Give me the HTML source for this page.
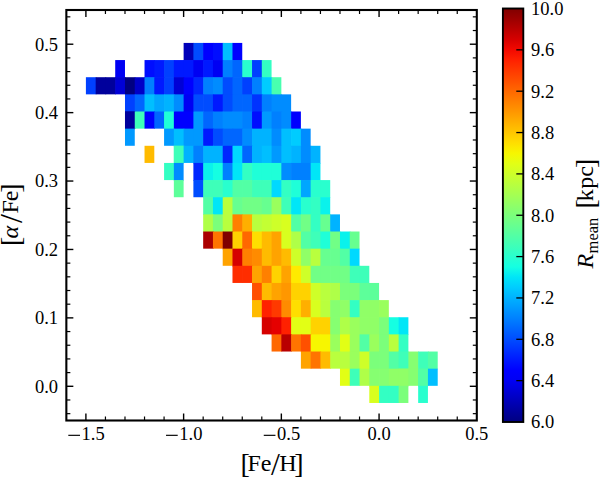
<!DOCTYPE html><html><head><meta charset="utf-8"><style>html,body{margin:0;padding:0;background:#fff;width:600px;height:477px;overflow:hidden}svg{display:block}text{font-family:"Liberation Serif",serif;fill:#000}</style></head><body>
<svg width="600" height="477" viewBox="0 0 600 477">
<g>
<rect x="183.62" y="42.92" width="10.47" height="17.84" fill="#0000b9"/>
<rect x="193.39" y="42.92" width="10.47" height="17.84" fill="#004cff"/>
<rect x="203.17" y="42.92" width="10.47" height="17.84" fill="#0000ff"/>
<rect x="212.94" y="42.92" width="10.47" height="17.84" fill="#000dff"/>
<rect x="222.71" y="42.92" width="10.47" height="17.84" fill="#00bfff"/>
<rect x="232.48" y="42.92" width="9.77" height="17.84" fill="#0000ff"/>
<rect x="115.21" y="60.06" width="9.77" height="17.85" fill="#0000f3"/>
<rect x="144.53" y="60.06" width="10.47" height="17.85" fill="#000dff"/>
<rect x="154.30" y="60.06" width="10.47" height="17.85" fill="#0019ff"/>
<rect x="164.08" y="60.06" width="10.47" height="17.85" fill="#0040ff"/>
<rect x="173.85" y="60.06" width="10.47" height="17.85" fill="#0019ff"/>
<rect x="183.62" y="60.06" width="10.47" height="17.85" fill="#0019ff"/>
<rect x="193.39" y="60.06" width="10.47" height="17.85" fill="#0000f3"/>
<rect x="203.17" y="60.06" width="10.47" height="17.85" fill="#0019ff"/>
<rect x="212.94" y="60.06" width="10.47" height="17.85" fill="#0000f3"/>
<rect x="222.71" y="60.06" width="10.47" height="17.85" fill="#0080ff"/>
<rect x="232.48" y="60.06" width="10.47" height="17.85" fill="#0066ff"/>
<rect x="242.26" y="60.06" width="10.47" height="17.85" fill="#29ffce"/>
<rect x="252.03" y="60.06" width="10.47" height="17.85" fill="#0040ff"/>
<rect x="261.80" y="60.06" width="9.77" height="17.85" fill="#33ffc3"/>
<rect x="85.90" y="77.21" width="10.47" height="17.14" fill="#0040ff"/>
<rect x="95.67" y="77.21" width="10.47" height="17.14" fill="#00009c"/>
<rect x="105.44" y="77.21" width="10.47" height="17.14" fill="#00009c"/>
<rect x="115.21" y="77.21" width="10.47" height="17.14" fill="#0000d6"/>
<rect x="124.99" y="77.21" width="10.47" height="17.84" fill="#000080"/>
<rect x="134.76" y="77.21" width="10.47" height="17.84" fill="#0000c8"/>
<rect x="144.53" y="77.21" width="10.47" height="17.84" fill="#0080ff"/>
<rect x="154.30" y="77.21" width="10.47" height="17.84" fill="#0019ff"/>
<rect x="164.08" y="77.21" width="10.47" height="17.84" fill="#0040ff"/>
<rect x="173.85" y="77.21" width="10.47" height="17.84" fill="#0000d6"/>
<rect x="183.62" y="77.21" width="10.47" height="17.84" fill="#0000ff"/>
<rect x="193.39" y="77.21" width="10.47" height="17.84" fill="#0026ff"/>
<rect x="203.17" y="77.21" width="10.47" height="17.84" fill="#0080ff"/>
<rect x="212.94" y="77.21" width="10.47" height="17.84" fill="#008cff"/>
<rect x="222.71" y="77.21" width="10.47" height="17.84" fill="#004cff"/>
<rect x="232.48" y="77.21" width="10.47" height="17.84" fill="#0066ff"/>
<rect x="242.26" y="77.21" width="10.47" height="17.84" fill="#0040ff"/>
<rect x="252.03" y="77.21" width="10.47" height="17.84" fill="#0080ff"/>
<rect x="261.80" y="77.21" width="10.47" height="17.84" fill="#00ccff"/>
<rect x="271.58" y="77.21" width="9.77" height="17.84" fill="#48ffaf"/>
<rect x="124.99" y="94.36" width="10.47" height="17.84" fill="#0040ff"/>
<rect x="134.76" y="94.36" width="10.47" height="17.84" fill="#0066ff"/>
<rect x="144.53" y="94.36" width="10.47" height="17.84" fill="#00bfff"/>
<rect x="154.30" y="94.36" width="10.47" height="17.84" fill="#00a6ff"/>
<rect x="164.08" y="94.36" width="10.47" height="17.84" fill="#00b3ff"/>
<rect x="173.85" y="94.36" width="10.47" height="17.84" fill="#008cff"/>
<rect x="183.62" y="94.36" width="10.47" height="17.84" fill="#0000f3"/>
<rect x="193.39" y="94.36" width="10.47" height="17.84" fill="#004cff"/>
<rect x="203.17" y="94.36" width="10.47" height="17.84" fill="#004cff"/>
<rect x="212.94" y="94.36" width="10.47" height="17.84" fill="#0019ff"/>
<rect x="222.71" y="94.36" width="10.47" height="17.84" fill="#004cff"/>
<rect x="232.48" y="94.36" width="10.47" height="17.84" fill="#0066ff"/>
<rect x="242.26" y="94.36" width="10.47" height="17.84" fill="#0066ff"/>
<rect x="252.03" y="94.36" width="10.47" height="17.84" fill="#0033ff"/>
<rect x="261.80" y="94.36" width="10.47" height="17.84" fill="#0080ff"/>
<rect x="271.58" y="94.36" width="10.47" height="17.84" fill="#008cff"/>
<rect x="281.35" y="94.36" width="9.77" height="17.84" fill="#008cff"/>
<rect x="124.99" y="111.50" width="10.47" height="17.14" fill="#00009c"/>
<rect x="124.99" y="111.50" width="9.77" height="17.84" fill="#00009c"/>
<rect x="134.76" y="111.50" width="10.47" height="17.14" fill="#3effb9"/>
<rect x="144.53" y="111.50" width="10.47" height="17.14" fill="#0000ff"/>
<rect x="154.30" y="111.50" width="10.47" height="17.14" fill="#0066ff"/>
<rect x="164.08" y="111.50" width="10.47" height="17.84" fill="#1fffd8"/>
<rect x="173.85" y="111.50" width="10.47" height="17.84" fill="#0000ff"/>
<rect x="183.62" y="111.50" width="10.47" height="17.84" fill="#0000ff"/>
<rect x="193.39" y="111.50" width="10.47" height="17.84" fill="#0099ff"/>
<rect x="203.17" y="111.50" width="10.47" height="17.84" fill="#0066ff"/>
<rect x="212.94" y="111.50" width="10.47" height="17.84" fill="#0080ff"/>
<rect x="222.71" y="111.50" width="10.47" height="17.84" fill="#008cff"/>
<rect x="232.48" y="111.50" width="10.47" height="17.84" fill="#008cff"/>
<rect x="242.26" y="111.50" width="10.47" height="17.84" fill="#0080ff"/>
<rect x="252.03" y="111.50" width="10.47" height="17.84" fill="#000dff"/>
<rect x="261.80" y="111.50" width="10.47" height="17.84" fill="#0099ff"/>
<rect x="271.58" y="111.50" width="10.47" height="17.84" fill="#0080ff"/>
<rect x="281.35" y="111.50" width="10.47" height="17.84" fill="#008cff"/>
<rect x="291.12" y="111.50" width="9.77" height="17.84" fill="#0000ff"/>
<rect x="124.99" y="128.64" width="9.77" height="17.15" fill="#0099ff"/>
<rect x="164.08" y="128.64" width="10.47" height="17.15" fill="#0099ff"/>
<rect x="173.85" y="128.64" width="10.47" height="17.85" fill="#00bfff"/>
<rect x="183.62" y="128.64" width="10.47" height="17.85" fill="#0099ff"/>
<rect x="193.39" y="128.64" width="10.47" height="17.85" fill="#0099ff"/>
<rect x="203.17" y="128.64" width="10.47" height="17.85" fill="#0019ff"/>
<rect x="212.94" y="128.64" width="10.47" height="17.85" fill="#004cff"/>
<rect x="222.71" y="128.64" width="10.47" height="17.85" fill="#0066ff"/>
<rect x="232.48" y="128.64" width="10.47" height="17.85" fill="#0066ff"/>
<rect x="242.26" y="128.64" width="10.47" height="17.85" fill="#008cff"/>
<rect x="252.03" y="128.64" width="10.47" height="17.85" fill="#00b3ff"/>
<rect x="261.80" y="128.64" width="10.47" height="17.85" fill="#00b3ff"/>
<rect x="271.58" y="128.64" width="10.47" height="17.85" fill="#008cff"/>
<rect x="281.35" y="128.64" width="10.47" height="17.85" fill="#00bfff"/>
<rect x="291.12" y="128.64" width="10.47" height="17.85" fill="#00ccff"/>
<rect x="300.89" y="128.64" width="9.77" height="17.85" fill="#008cff"/>
<rect x="144.53" y="145.79" width="9.77" height="17.14" fill="#ffbb00"/>
<rect x="173.85" y="145.79" width="10.47" height="17.14" fill="#3effb9"/>
<rect x="173.85" y="145.79" width="9.77" height="17.84" fill="#3effb9"/>
<rect x="183.62" y="145.79" width="10.47" height="17.14" fill="#00b3ff"/>
<rect x="193.39" y="145.79" width="10.47" height="17.84" fill="#0080ff"/>
<rect x="203.17" y="145.79" width="10.47" height="17.84" fill="#00b3ff"/>
<rect x="212.94" y="145.79" width="10.47" height="17.84" fill="#00b3ff"/>
<rect x="222.71" y="145.79" width="10.47" height="17.84" fill="#0026ff"/>
<rect x="232.48" y="145.79" width="10.47" height="17.84" fill="#00d9ff"/>
<rect x="242.26" y="145.79" width="10.47" height="17.84" fill="#0066ff"/>
<rect x="252.03" y="145.79" width="10.47" height="17.84" fill="#00b3ff"/>
<rect x="261.80" y="145.79" width="10.47" height="17.84" fill="#00bfff"/>
<rect x="271.58" y="145.79" width="10.47" height="17.84" fill="#0099ff"/>
<rect x="281.35" y="145.79" width="10.47" height="17.84" fill="#00bfff"/>
<rect x="291.12" y="145.79" width="10.47" height="17.84" fill="#00b3ff"/>
<rect x="300.89" y="145.79" width="10.47" height="17.84" fill="#008cff"/>
<rect x="310.67" y="145.79" width="9.77" height="17.84" fill="#00b3ff"/>
<rect x="164.08" y="162.94" width="10.47" height="17.14" fill="#33ffc3"/>
<rect x="173.85" y="162.94" width="9.77" height="17.84" fill="#008cff"/>
<rect x="193.39" y="162.94" width="10.47" height="17.84" fill="#0026ff"/>
<rect x="203.17" y="162.94" width="10.47" height="17.84" fill="#0af2ec"/>
<rect x="212.94" y="162.94" width="10.47" height="17.84" fill="#15ffe2"/>
<rect x="222.71" y="162.94" width="10.47" height="17.84" fill="#0080ff"/>
<rect x="232.48" y="162.94" width="10.47" height="17.84" fill="#00e6f7"/>
<rect x="242.26" y="162.94" width="10.47" height="17.84" fill="#33ffc3"/>
<rect x="252.03" y="162.94" width="10.47" height="17.84" fill="#1fffd8"/>
<rect x="261.80" y="162.94" width="10.47" height="17.84" fill="#1fffd8"/>
<rect x="271.58" y="162.94" width="10.47" height="17.84" fill="#1fffd8"/>
<rect x="281.35" y="162.94" width="10.47" height="17.84" fill="#008cff"/>
<rect x="291.12" y="162.94" width="10.47" height="17.84" fill="#0080ff"/>
<rect x="300.89" y="162.94" width="10.47" height="17.84" fill="#0080ff"/>
<rect x="310.67" y="162.94" width="9.77" height="17.84" fill="#00e6f7"/>
<rect x="173.85" y="180.08" width="9.77" height="17.15" fill="#5dff9a"/>
<rect x="193.39" y="180.08" width="10.47" height="17.15" fill="#004cff"/>
<rect x="203.17" y="180.08" width="10.47" height="17.85" fill="#3effb9"/>
<rect x="212.94" y="180.08" width="10.47" height="17.85" fill="#3effb9"/>
<rect x="222.71" y="180.08" width="10.47" height="17.85" fill="#29ffce"/>
<rect x="232.48" y="180.08" width="10.47" height="17.85" fill="#52ffa5"/>
<rect x="242.26" y="180.08" width="10.47" height="17.85" fill="#52ffa5"/>
<rect x="252.03" y="180.08" width="10.47" height="17.85" fill="#3effb9"/>
<rect x="261.80" y="180.08" width="10.47" height="17.85" fill="#3effb9"/>
<rect x="271.58" y="180.08" width="10.47" height="17.85" fill="#00d9ff"/>
<rect x="281.35" y="180.08" width="10.47" height="17.85" fill="#33ffc3"/>
<rect x="291.12" y="180.08" width="10.47" height="17.85" fill="#1fffd8"/>
<rect x="300.89" y="180.08" width="10.47" height="17.85" fill="#00a6ff"/>
<rect x="310.67" y="180.08" width="10.47" height="17.85" fill="#29ffce"/>
<rect x="320.44" y="180.08" width="9.77" height="17.85" fill="#29ffce"/>
<rect x="203.17" y="197.23" width="10.47" height="17.84" fill="#52ffa5"/>
<rect x="212.94" y="197.23" width="10.47" height="17.84" fill="#00e6f7"/>
<rect x="222.71" y="197.23" width="10.47" height="17.84" fill="#b9ff3e"/>
<rect x="232.48" y="197.23" width="10.47" height="17.84" fill="#67ff90"/>
<rect x="242.26" y="197.23" width="10.47" height="17.84" fill="#71ff86"/>
<rect x="252.03" y="197.23" width="10.47" height="17.84" fill="#71ff86"/>
<rect x="261.80" y="197.23" width="10.47" height="17.84" fill="#67ff90"/>
<rect x="271.58" y="197.23" width="10.47" height="17.84" fill="#9aff5d"/>
<rect x="281.35" y="197.23" width="10.47" height="17.84" fill="#3effb9"/>
<rect x="291.12" y="197.23" width="10.47" height="17.84" fill="#00e6f7"/>
<rect x="300.89" y="197.23" width="10.47" height="17.84" fill="#29ffce"/>
<rect x="310.67" y="197.23" width="10.47" height="17.84" fill="#33ffc3"/>
<rect x="320.44" y="197.23" width="9.77" height="17.84" fill="#0af2ec"/>
<rect x="203.17" y="214.37" width="10.47" height="17.84" fill="#afff48"/>
<rect x="212.94" y="214.37" width="10.47" height="17.84" fill="#7bff7b"/>
<rect x="222.71" y="214.37" width="10.47" height="17.84" fill="#b9ff3e"/>
<rect x="232.48" y="214.37" width="10.47" height="17.84" fill="#ff8000"/>
<rect x="242.26" y="214.37" width="10.47" height="17.84" fill="#ffaf00"/>
<rect x="252.03" y="214.37" width="10.47" height="17.84" fill="#b9ff3e"/>
<rect x="261.80" y="214.37" width="10.47" height="17.84" fill="#c3ff33"/>
<rect x="271.58" y="214.37" width="10.47" height="17.84" fill="#ceff29"/>
<rect x="281.35" y="214.37" width="10.47" height="17.84" fill="#d8ff1f"/>
<rect x="291.12" y="214.37" width="10.47" height="17.84" fill="#52ffa5"/>
<rect x="300.89" y="214.37" width="10.47" height="17.84" fill="#71ff86"/>
<rect x="310.67" y="214.37" width="10.47" height="17.84" fill="#33ffc3"/>
<rect x="320.44" y="214.37" width="10.47" height="17.84" fill="#67ff90"/>
<rect x="330.21" y="214.37" width="9.77" height="17.84" fill="#00b3ff"/>
<rect x="203.17" y="231.51" width="10.47" height="17.15" fill="#ab0000"/>
<rect x="212.94" y="231.51" width="10.47" height="17.15" fill="#ff7400"/>
<rect x="222.71" y="231.51" width="10.47" height="17.85" fill="#800000"/>
<rect x="232.48" y="231.51" width="10.47" height="17.85" fill="#ffd200"/>
<rect x="242.26" y="231.51" width="10.47" height="17.85" fill="#ff6800"/>
<rect x="252.03" y="231.51" width="10.47" height="17.85" fill="#ffde00"/>
<rect x="261.80" y="231.51" width="10.47" height="17.85" fill="#ffbb00"/>
<rect x="271.58" y="231.51" width="10.47" height="17.85" fill="#ffa300"/>
<rect x="281.35" y="231.51" width="10.47" height="17.85" fill="#d8ff1f"/>
<rect x="291.12" y="231.51" width="10.47" height="17.85" fill="#afff48"/>
<rect x="300.89" y="231.51" width="10.47" height="17.85" fill="#52ffa5"/>
<rect x="310.67" y="231.51" width="10.47" height="17.85" fill="#3effb9"/>
<rect x="320.44" y="231.51" width="10.47" height="17.85" fill="#1fffd8"/>
<rect x="330.21" y="231.51" width="10.47" height="17.85" fill="#71ff86"/>
<rect x="339.98" y="231.51" width="10.47" height="17.85" fill="#0af2ec"/>
<rect x="349.76" y="231.51" width="9.77" height="17.85" fill="#67ff90"/>
<rect x="222.71" y="248.66" width="10.47" height="17.14" fill="#ffa300"/>
<rect x="232.48" y="248.66" width="10.47" height="17.84" fill="#d60000"/>
<rect x="242.26" y="248.66" width="10.47" height="17.84" fill="#ff8000"/>
<rect x="252.03" y="248.66" width="10.47" height="17.84" fill="#ff8b00"/>
<rect x="261.80" y="248.66" width="10.47" height="17.84" fill="#ffbb00"/>
<rect x="271.58" y="248.66" width="10.47" height="17.84" fill="#ffa300"/>
<rect x="281.35" y="248.66" width="10.47" height="17.84" fill="#ffbb00"/>
<rect x="291.12" y="248.66" width="10.47" height="17.84" fill="#ceff29"/>
<rect x="300.89" y="248.66" width="10.47" height="17.84" fill="#90ff67"/>
<rect x="310.67" y="248.66" width="10.47" height="17.84" fill="#b9ff3e"/>
<rect x="320.44" y="248.66" width="10.47" height="17.84" fill="#67ff90"/>
<rect x="330.21" y="248.66" width="10.47" height="17.84" fill="#67ff90"/>
<rect x="339.98" y="248.66" width="10.47" height="17.84" fill="#52ffa5"/>
<rect x="349.76" y="248.66" width="9.77" height="17.84" fill="#00d9ff"/>
<rect x="232.48" y="265.81" width="10.47" height="17.14" fill="#ff2d00"/>
<rect x="242.26" y="265.81" width="10.47" height="17.14" fill="#ff2d00"/>
<rect x="252.03" y="265.81" width="10.47" height="17.84" fill="#ffa300"/>
<rect x="261.80" y="265.81" width="10.47" height="17.84" fill="#ff8000"/>
<rect x="271.58" y="265.81" width="10.47" height="17.84" fill="#ffd200"/>
<rect x="281.35" y="265.81" width="10.47" height="17.84" fill="#ffa300"/>
<rect x="291.12" y="265.81" width="10.47" height="17.84" fill="#ffea00"/>
<rect x="300.89" y="265.81" width="10.47" height="17.84" fill="#ceff29"/>
<rect x="310.67" y="265.81" width="10.47" height="17.84" fill="#71ff86"/>
<rect x="320.44" y="265.81" width="10.47" height="17.84" fill="#71ff86"/>
<rect x="330.21" y="265.81" width="10.47" height="17.84" fill="#71ff86"/>
<rect x="339.98" y="265.81" width="10.47" height="17.84" fill="#71ff86"/>
<rect x="349.76" y="265.81" width="10.47" height="17.84" fill="#3effb9"/>
<rect x="359.53" y="265.81" width="9.77" height="17.84" fill="#3effb9"/>
<rect x="252.03" y="282.95" width="10.47" height="17.85" fill="#ff5000"/>
<rect x="261.80" y="282.95" width="10.47" height="17.85" fill="#ffbb00"/>
<rect x="271.58" y="282.95" width="10.47" height="17.85" fill="#ffa300"/>
<rect x="281.35" y="282.95" width="10.47" height="17.85" fill="#ff9700"/>
<rect x="291.12" y="282.95" width="10.47" height="17.85" fill="#ffd200"/>
<rect x="300.89" y="282.95" width="10.47" height="17.85" fill="#ffd200"/>
<rect x="310.67" y="282.95" width="10.47" height="17.85" fill="#ceff29"/>
<rect x="320.44" y="282.95" width="10.47" height="17.85" fill="#b9ff3e"/>
<rect x="330.21" y="282.95" width="10.47" height="17.85" fill="#afff48"/>
<rect x="339.98" y="282.95" width="10.47" height="17.85" fill="#7bff7b"/>
<rect x="349.76" y="282.95" width="10.47" height="17.85" fill="#7bff7b"/>
<rect x="359.53" y="282.95" width="10.47" height="17.85" fill="#5dff9a"/>
<rect x="369.30" y="282.95" width="9.77" height="17.85" fill="#5dff9a"/>
<rect x="252.03" y="300.10" width="10.47" height="17.14" fill="#ffbb00"/>
<rect x="261.80" y="300.10" width="10.47" height="17.84" fill="#ff2100"/>
<rect x="271.58" y="300.10" width="10.47" height="17.84" fill="#ff3900"/>
<rect x="281.35" y="300.10" width="10.47" height="17.84" fill="#ff8b00"/>
<rect x="291.12" y="300.10" width="10.47" height="17.84" fill="#ffde00"/>
<rect x="300.89" y="300.10" width="10.47" height="17.84" fill="#ffaf00"/>
<rect x="310.67" y="300.10" width="10.47" height="17.84" fill="#d8ff1f"/>
<rect x="320.44" y="300.10" width="10.47" height="17.84" fill="#b9ff3e"/>
<rect x="330.21" y="300.10" width="10.47" height="17.84" fill="#86ff71"/>
<rect x="339.98" y="300.10" width="10.47" height="17.84" fill="#90ff67"/>
<rect x="349.76" y="300.10" width="10.47" height="17.84" fill="#33ffc3"/>
<rect x="359.53" y="300.10" width="10.47" height="17.84" fill="#90ff67"/>
<rect x="369.30" y="300.10" width="10.47" height="17.84" fill="#90ff67"/>
<rect x="379.07" y="300.10" width="9.77" height="17.84" fill="#9aff5d"/>
<rect x="261.80" y="317.24" width="10.47" height="17.14" fill="#d60000"/>
<rect x="271.58" y="317.24" width="10.47" height="17.84" fill="#e50000"/>
<rect x="281.35" y="317.24" width="10.47" height="17.84" fill="#ff2100"/>
<rect x="291.12" y="317.24" width="10.47" height="17.84" fill="#e2ff15"/>
<rect x="300.89" y="317.24" width="10.47" height="17.84" fill="#e2ff15"/>
<rect x="310.67" y="317.24" width="10.47" height="17.84" fill="#ffd200"/>
<rect x="320.44" y="317.24" width="10.47" height="17.84" fill="#ffd200"/>
<rect x="330.21" y="317.24" width="10.47" height="17.84" fill="#86ff71"/>
<rect x="339.98" y="317.24" width="10.47" height="17.84" fill="#afff48"/>
<rect x="349.76" y="317.24" width="10.47" height="17.84" fill="#9aff5d"/>
<rect x="359.53" y="317.24" width="10.47" height="17.84" fill="#90ff67"/>
<rect x="369.30" y="317.24" width="10.47" height="17.84" fill="#90ff67"/>
<rect x="379.07" y="317.24" width="10.47" height="17.84" fill="#7bff7b"/>
<rect x="388.85" y="317.24" width="10.47" height="17.84" fill="#15ffe2"/>
<rect x="398.62" y="317.24" width="9.77" height="17.84" fill="#00e6f7"/>
<rect x="271.58" y="334.38" width="10.47" height="17.15" fill="#ff6800"/>
<rect x="281.35" y="334.38" width="10.47" height="17.15" fill="#b90000"/>
<rect x="291.12" y="334.38" width="10.47" height="17.15" fill="#ff7400"/>
<rect x="300.89" y="334.38" width="10.47" height="17.85" fill="#ff5000"/>
<rect x="310.67" y="334.38" width="10.47" height="17.85" fill="#f7f600"/>
<rect x="320.44" y="334.38" width="10.47" height="17.85" fill="#f7f600"/>
<rect x="330.21" y="334.38" width="10.47" height="17.85" fill="#9aff5d"/>
<rect x="339.98" y="334.38" width="10.47" height="17.85" fill="#e2ff15"/>
<rect x="349.76" y="334.38" width="10.47" height="17.85" fill="#9aff5d"/>
<rect x="359.53" y="334.38" width="10.47" height="17.85" fill="#52ffa5"/>
<rect x="369.30" y="334.38" width="10.47" height="17.85" fill="#9aff5d"/>
<rect x="379.07" y="334.38" width="10.47" height="17.85" fill="#7bff7b"/>
<rect x="388.85" y="334.38" width="10.47" height="17.85" fill="#b9ff3e"/>
<rect x="398.62" y="334.38" width="9.77" height="17.85" fill="#33ffc3"/>
<rect x="300.89" y="351.53" width="10.47" height="17.14" fill="#ffa300"/>
<rect x="310.67" y="351.53" width="10.47" height="17.14" fill="#ff7400"/>
<rect x="320.44" y="351.53" width="10.47" height="17.14" fill="#ffbb00"/>
<rect x="330.21" y="351.53" width="10.47" height="17.14" fill="#b9ff3e"/>
<rect x="339.98" y="351.53" width="10.47" height="17.84" fill="#b9ff3e"/>
<rect x="349.76" y="351.53" width="10.47" height="17.84" fill="#9aff5d"/>
<rect x="359.53" y="351.53" width="10.47" height="17.84" fill="#ceff29"/>
<rect x="369.30" y="351.53" width="10.47" height="17.84" fill="#7bff7b"/>
<rect x="379.07" y="351.53" width="10.47" height="17.84" fill="#7bff7b"/>
<rect x="388.85" y="351.53" width="10.47" height="17.84" fill="#52ffa5"/>
<rect x="398.62" y="351.53" width="10.47" height="17.84" fill="#3effb9"/>
<rect x="408.39" y="351.53" width="10.47" height="17.84" fill="#86ff71"/>
<rect x="418.16" y="351.53" width="10.47" height="17.84" fill="#3effb9"/>
<rect x="427.94" y="351.53" width="9.77" height="17.84" fill="#52ffa5"/>
<rect x="339.98" y="368.68" width="10.47" height="17.14" fill="#e2ff15"/>
<rect x="349.76" y="368.68" width="10.47" height="17.14" fill="#3effb9"/>
<rect x="359.53" y="368.68" width="10.47" height="17.14" fill="#afff48"/>
<rect x="369.30" y="368.68" width="10.47" height="17.84" fill="#86ff71"/>
<rect x="379.07" y="368.68" width="10.47" height="17.84" fill="#86ff71"/>
<rect x="388.85" y="368.68" width="10.47" height="17.84" fill="#90ff67"/>
<rect x="398.62" y="368.68" width="10.47" height="17.14" fill="#90ff67"/>
<rect x="398.62" y="368.68" width="9.77" height="17.84" fill="#90ff67"/>
<rect x="408.39" y="368.68" width="10.47" height="17.14" fill="#86ff71"/>
<rect x="418.16" y="368.68" width="10.47" height="17.14" fill="#52ffa5"/>
<rect x="418.16" y="368.68" width="9.77" height="17.84" fill="#52ffa5"/>
<rect x="427.94" y="368.68" width="9.77" height="17.14" fill="#00bfff"/>
<rect x="369.30" y="385.82" width="10.47" height="17.15" fill="#d8ff1f"/>
<rect x="379.07" y="385.82" width="10.47" height="17.15" fill="#33ffc3"/>
<rect x="388.85" y="385.82" width="10.47" height="17.15" fill="#33ffc3"/>
<rect x="398.62" y="385.82" width="9.77" height="17.15" fill="#7bff7b"/>
<rect x="418.16" y="385.82" width="9.77" height="17.15" fill="#29ffce"/>
</g>
<g stroke="#000"><line x1="85.90" y1="420.50" x2="85.90" y2="413.50" stroke-width="1.4"/><line x1="85.90" y1="10.00" x2="85.90" y2="17.00" stroke-width="1.4"/><line x1="105.44" y1="420.50" x2="105.44" y2="416.50" stroke-width="1.2"/><line x1="105.44" y1="10.00" x2="105.44" y2="14.00" stroke-width="1.2"/><line x1="124.99" y1="420.50" x2="124.99" y2="416.50" stroke-width="1.2"/><line x1="124.99" y1="10.00" x2="124.99" y2="14.00" stroke-width="1.2"/><line x1="144.53" y1="420.50" x2="144.53" y2="416.50" stroke-width="1.2"/><line x1="144.53" y1="10.00" x2="144.53" y2="14.00" stroke-width="1.2"/><line x1="164.08" y1="420.50" x2="164.08" y2="416.50" stroke-width="1.2"/><line x1="164.08" y1="10.00" x2="164.08" y2="14.00" stroke-width="1.2"/><line x1="183.62" y1="420.50" x2="183.62" y2="413.50" stroke-width="1.4"/><line x1="183.62" y1="10.00" x2="183.62" y2="17.00" stroke-width="1.4"/><line x1="203.17" y1="420.50" x2="203.17" y2="416.50" stroke-width="1.2"/><line x1="203.17" y1="10.00" x2="203.17" y2="14.00" stroke-width="1.2"/><line x1="222.71" y1="420.50" x2="222.71" y2="416.50" stroke-width="1.2"/><line x1="222.71" y1="10.00" x2="222.71" y2="14.00" stroke-width="1.2"/><line x1="242.26" y1="420.50" x2="242.26" y2="416.50" stroke-width="1.2"/><line x1="242.26" y1="10.00" x2="242.26" y2="14.00" stroke-width="1.2"/><line x1="261.80" y1="420.50" x2="261.80" y2="416.50" stroke-width="1.2"/><line x1="261.80" y1="10.00" x2="261.80" y2="14.00" stroke-width="1.2"/><line x1="281.35" y1="420.50" x2="281.35" y2="413.50" stroke-width="1.4"/><line x1="281.35" y1="10.00" x2="281.35" y2="17.00" stroke-width="1.4"/><line x1="300.89" y1="420.50" x2="300.89" y2="416.50" stroke-width="1.2"/><line x1="300.89" y1="10.00" x2="300.89" y2="14.00" stroke-width="1.2"/><line x1="320.44" y1="420.50" x2="320.44" y2="416.50" stroke-width="1.2"/><line x1="320.44" y1="10.00" x2="320.44" y2="14.00" stroke-width="1.2"/><line x1="339.98" y1="420.50" x2="339.98" y2="416.50" stroke-width="1.2"/><line x1="339.98" y1="10.00" x2="339.98" y2="14.00" stroke-width="1.2"/><line x1="359.53" y1="420.50" x2="359.53" y2="416.50" stroke-width="1.2"/><line x1="359.53" y1="10.00" x2="359.53" y2="14.00" stroke-width="1.2"/><line x1="379.07" y1="420.50" x2="379.07" y2="413.50" stroke-width="1.4"/><line x1="379.07" y1="10.00" x2="379.07" y2="17.00" stroke-width="1.4"/><line x1="398.62" y1="420.50" x2="398.62" y2="416.50" stroke-width="1.2"/><line x1="398.62" y1="10.00" x2="398.62" y2="14.00" stroke-width="1.2"/><line x1="418.16" y1="420.50" x2="418.16" y2="416.50" stroke-width="1.2"/><line x1="418.16" y1="10.00" x2="418.16" y2="14.00" stroke-width="1.2"/><line x1="437.71" y1="420.50" x2="437.71" y2="416.50" stroke-width="1.2"/><line x1="437.71" y1="10.00" x2="437.71" y2="14.00" stroke-width="1.2"/><line x1="457.25" y1="420.50" x2="457.25" y2="416.50" stroke-width="1.2"/><line x1="457.25" y1="10.00" x2="457.25" y2="14.00" stroke-width="1.2"/><line x1="66.35" y1="413.66" x2="70.35" y2="413.66" stroke-width="1.2"/><line x1="476.80" y1="413.66" x2="472.80" y2="413.66" stroke-width="1.2"/><line x1="66.35" y1="399.98" x2="70.35" y2="399.98" stroke-width="1.2"/><line x1="476.80" y1="399.98" x2="472.80" y2="399.98" stroke-width="1.2"/><line x1="66.35" y1="386.29" x2="73.35" y2="386.29" stroke-width="1.4"/><line x1="476.80" y1="386.29" x2="469.80" y2="386.29" stroke-width="1.4"/><line x1="66.35" y1="372.61" x2="70.35" y2="372.61" stroke-width="1.2"/><line x1="476.80" y1="372.61" x2="472.80" y2="372.61" stroke-width="1.2"/><line x1="66.35" y1="358.93" x2="70.35" y2="358.93" stroke-width="1.2"/><line x1="476.80" y1="358.93" x2="472.80" y2="358.93" stroke-width="1.2"/><line x1="66.35" y1="345.24" x2="70.35" y2="345.24" stroke-width="1.2"/><line x1="476.80" y1="345.24" x2="472.80" y2="345.24" stroke-width="1.2"/><line x1="66.35" y1="331.56" x2="70.35" y2="331.56" stroke-width="1.2"/><line x1="476.80" y1="331.56" x2="472.80" y2="331.56" stroke-width="1.2"/><line x1="66.35" y1="317.88" x2="73.35" y2="317.88" stroke-width="1.4"/><line x1="476.80" y1="317.88" x2="469.80" y2="317.88" stroke-width="1.4"/><line x1="66.35" y1="304.19" x2="70.35" y2="304.19" stroke-width="1.2"/><line x1="476.80" y1="304.19" x2="472.80" y2="304.19" stroke-width="1.2"/><line x1="66.35" y1="290.51" x2="70.35" y2="290.51" stroke-width="1.2"/><line x1="476.80" y1="290.51" x2="472.80" y2="290.51" stroke-width="1.2"/><line x1="66.35" y1="276.82" x2="70.35" y2="276.82" stroke-width="1.2"/><line x1="476.80" y1="276.82" x2="472.80" y2="276.82" stroke-width="1.2"/><line x1="66.35" y1="263.14" x2="70.35" y2="263.14" stroke-width="1.2"/><line x1="476.80" y1="263.14" x2="472.80" y2="263.14" stroke-width="1.2"/><line x1="66.35" y1="249.46" x2="73.35" y2="249.46" stroke-width="1.4"/><line x1="476.80" y1="249.46" x2="469.80" y2="249.46" stroke-width="1.4"/><line x1="66.35" y1="235.78" x2="70.35" y2="235.78" stroke-width="1.2"/><line x1="476.80" y1="235.78" x2="472.80" y2="235.78" stroke-width="1.2"/><line x1="66.35" y1="222.09" x2="70.35" y2="222.09" stroke-width="1.2"/><line x1="476.80" y1="222.09" x2="472.80" y2="222.09" stroke-width="1.2"/><line x1="66.35" y1="208.41" x2="70.35" y2="208.41" stroke-width="1.2"/><line x1="476.80" y1="208.41" x2="472.80" y2="208.41" stroke-width="1.2"/><line x1="66.35" y1="194.73" x2="70.35" y2="194.73" stroke-width="1.2"/><line x1="476.80" y1="194.73" x2="472.80" y2="194.73" stroke-width="1.2"/><line x1="66.35" y1="181.04" x2="73.35" y2="181.04" stroke-width="1.4"/><line x1="476.80" y1="181.04" x2="469.80" y2="181.04" stroke-width="1.4"/><line x1="66.35" y1="167.36" x2="70.35" y2="167.36" stroke-width="1.2"/><line x1="476.80" y1="167.36" x2="472.80" y2="167.36" stroke-width="1.2"/><line x1="66.35" y1="153.68" x2="70.35" y2="153.68" stroke-width="1.2"/><line x1="476.80" y1="153.68" x2="472.80" y2="153.68" stroke-width="1.2"/><line x1="66.35" y1="139.99" x2="70.35" y2="139.99" stroke-width="1.2"/><line x1="476.80" y1="139.99" x2="472.80" y2="139.99" stroke-width="1.2"/><line x1="66.35" y1="126.31" x2="70.35" y2="126.31" stroke-width="1.2"/><line x1="476.80" y1="126.31" x2="472.80" y2="126.31" stroke-width="1.2"/><line x1="66.35" y1="112.63" x2="73.35" y2="112.63" stroke-width="1.4"/><line x1="476.80" y1="112.63" x2="469.80" y2="112.63" stroke-width="1.4"/><line x1="66.35" y1="98.94" x2="70.35" y2="98.94" stroke-width="1.2"/><line x1="476.80" y1="98.94" x2="472.80" y2="98.94" stroke-width="1.2"/><line x1="66.35" y1="85.26" x2="70.35" y2="85.26" stroke-width="1.2"/><line x1="476.80" y1="85.26" x2="472.80" y2="85.26" stroke-width="1.2"/><line x1="66.35" y1="71.58" x2="70.35" y2="71.58" stroke-width="1.2"/><line x1="476.80" y1="71.58" x2="472.80" y2="71.58" stroke-width="1.2"/><line x1="66.35" y1="57.89" x2="70.35" y2="57.89" stroke-width="1.2"/><line x1="476.80" y1="57.89" x2="472.80" y2="57.89" stroke-width="1.2"/><line x1="66.35" y1="44.21" x2="73.35" y2="44.21" stroke-width="1.4"/><line x1="476.80" y1="44.21" x2="469.80" y2="44.21" stroke-width="1.4"/><line x1="66.35" y1="30.53" x2="70.35" y2="30.53" stroke-width="1.2"/><line x1="476.80" y1="30.53" x2="472.80" y2="30.53" stroke-width="1.2"/><line x1="66.35" y1="16.84" x2="70.35" y2="16.84" stroke-width="1.2"/><line x1="476.80" y1="16.84" x2="472.80" y2="16.84" stroke-width="1.2"/></g>
<rect x="66.35" y="10.00" width="410.45" height="410.50" fill="none" stroke="#000" stroke-width="2.1"/>
<text x="93.15" y="440.30" font-size="18.5" text-anchor="middle">1.5</text>
<rect x="68.30" y="434.75" width="11.7" height="1.15" fill="#000"/>
<text x="190.87" y="440.30" font-size="18.5" text-anchor="middle">1.0</text>
<rect x="166.02" y="434.75" width="11.7" height="1.15" fill="#000"/>
<text x="288.60" y="440.30" font-size="18.5" text-anchor="middle">0.5</text>
<rect x="263.75" y="434.75" width="11.7" height="1.15" fill="#000"/>
<text x="379.07" y="440.30" font-size="18.5" text-anchor="middle">0.0</text>
<text x="476.80" y="440.30" font-size="18.5" text-anchor="middle">0.5</text>
<text x="58.00" y="392.59" font-size="18.5" text-anchor="end">0.0</text>
<text x="58.00" y="324.18" font-size="18.5" text-anchor="end">0.1</text>
<text x="58.00" y="255.76" font-size="18.5" text-anchor="end">0.2</text>
<text x="58.00" y="187.34" font-size="18.5" text-anchor="end">0.3</text>
<text x="58.00" y="118.93" font-size="18.5" text-anchor="end">0.4</text>
<text x="58.00" y="50.51" font-size="18.5" text-anchor="end">0.5</text>
<text x="272.07" y="471.20" font-size="24" text-anchor="middle"><tspan font-size="28" dy="1.6" dx="0.0">[</tspan><tspan dy="-1.6" dx="-2.5">Fe</tspan><tspan font-size="32" dy="3.8" dx="-0.5">/</tspan><tspan dy="-3.8" dx="-0.5">H</tspan><tspan font-size="28" dy="1.6" dx="-2.5">]</tspan></text>
<text transform="translate(20.00,188.10) rotate(-90)" font-size="28.0" text-anchor="middle">]</text>
<text transform="translate(18.40,195.85) rotate(-90)" font-size="24.0" text-anchor="middle">e</text>
<text transform="translate(18.40,206.85) rotate(-90)" font-size="24.0" text-anchor="middle">F</text>
<text transform="translate(22.20,218.60) rotate(-90)" font-size="32.0" text-anchor="middle">/</text>
<text transform="translate(18.40,232.20) rotate(-90)" font-size="24.0" text-anchor="middle" font-style="italic">α</text>
<text transform="translate(20.00,241.40) rotate(-90)" font-size="28.0" text-anchor="middle">[</text>
<defs><linearGradient id="jg" x1="0" y1="0" x2="0" y2="1"><stop offset="0.0000" stop-color="#800000"/><stop offset="0.0250" stop-color="#9c0000"/><stop offset="0.0500" stop-color="#b90000"/><stop offset="0.0750" stop-color="#d60000"/><stop offset="0.1000" stop-color="#f30900"/><stop offset="0.1250" stop-color="#ff2100"/><stop offset="0.1500" stop-color="#ff3900"/><stop offset="0.1750" stop-color="#ff5000"/><stop offset="0.2000" stop-color="#ff6800"/><stop offset="0.2250" stop-color="#ff8000"/><stop offset="0.2500" stop-color="#ff9700"/><stop offset="0.2750" stop-color="#ffaf00"/><stop offset="0.3000" stop-color="#ffc600"/><stop offset="0.3250" stop-color="#ffde00"/><stop offset="0.3500" stop-color="#f7f600"/><stop offset="0.3750" stop-color="#e2ff15"/><stop offset="0.4000" stop-color="#ceff29"/><stop offset="0.4250" stop-color="#b9ff3e"/><stop offset="0.4500" stop-color="#a5ff52"/><stop offset="0.4750" stop-color="#90ff67"/><stop offset="0.5000" stop-color="#7bff7b"/><stop offset="0.5250" stop-color="#67ff90"/><stop offset="0.5500" stop-color="#52ffa5"/><stop offset="0.5750" stop-color="#3effb9"/><stop offset="0.6000" stop-color="#29ffce"/><stop offset="0.6250" stop-color="#15ffe2"/><stop offset="0.6500" stop-color="#00e5f7"/><stop offset="0.6750" stop-color="#00ccff"/><stop offset="0.7000" stop-color="#00b2ff"/><stop offset="0.7250" stop-color="#0099ff"/><stop offset="0.7500" stop-color="#0080ff"/><stop offset="0.7750" stop-color="#0066ff"/><stop offset="0.8000" stop-color="#004dff"/><stop offset="0.8250" stop-color="#0033ff"/><stop offset="0.8500" stop-color="#0019ff"/><stop offset="0.8750" stop-color="#0000ff"/><stop offset="0.9000" stop-color="#0000f3"/><stop offset="0.9250" stop-color="#0000d6"/><stop offset="0.9500" stop-color="#0000b9"/><stop offset="0.9750" stop-color="#00009c"/><stop offset="1.0000" stop-color="#000080"/></linearGradient></defs>
<rect x="502.90" y="8.50" width="20.40" height="413.50" fill="url(#jg)"/>
<g stroke="#000"><line x1="523.30" y1="49.85" x2="516.30" y2="49.85" stroke-width="1.3"/><line x1="523.30" y1="91.20" x2="516.30" y2="91.20" stroke-width="1.3"/><line x1="523.30" y1="132.55" x2="516.30" y2="132.55" stroke-width="1.3"/><line x1="523.30" y1="173.90" x2="516.30" y2="173.90" stroke-width="1.3"/><line x1="523.30" y1="215.25" x2="516.30" y2="215.25" stroke-width="1.3"/><line x1="523.30" y1="256.60" x2="516.30" y2="256.60" stroke-width="1.3"/><line x1="523.30" y1="297.95" x2="516.30" y2="297.95" stroke-width="1.3"/><line x1="523.30" y1="339.30" x2="516.30" y2="339.30" stroke-width="1.3"/><line x1="523.30" y1="380.65" x2="516.30" y2="380.65" stroke-width="1.3"/></g>
<rect x="502.90" y="8.50" width="20.40" height="413.50" fill="none" stroke="#000" stroke-width="1.9"/>
<text x="531.00" y="14.80" font-size="18.5">10.0</text>
<text x="531.00" y="56.15" font-size="18.5">9.6</text>
<text x="531.00" y="97.50" font-size="18.5">9.2</text>
<text x="531.00" y="138.85" font-size="18.5">8.8</text>
<text x="531.00" y="180.20" font-size="18.5">8.4</text>
<text x="531.00" y="221.55" font-size="18.5">8.0</text>
<text x="531.00" y="262.90" font-size="18.5">7.6</text>
<text x="531.00" y="304.25" font-size="18.5">7.2</text>
<text x="531.00" y="345.60" font-size="18.5">6.8</text>
<text x="531.00" y="386.95" font-size="18.5">6.4</text>
<text x="531.00" y="428.30" font-size="18.5">6.0</text>
<text transform="translate(593.3,268.5) rotate(-90)" font-size="24" font-style="italic">R</text>
<text transform="translate(598,253.4) rotate(-90)" font-size="16.5">mean</text>
<text transform="translate(595.00,163.45) rotate(-90)" font-size="28.0" text-anchor="middle">]</text>
<text transform="translate(593.40,171.40) rotate(-90)" font-size="24.0" text-anchor="middle">c</text>
<text transform="translate(593.40,182.65) rotate(-90)" font-size="24.0" text-anchor="middle">p</text>
<text transform="translate(593.40,195.25) rotate(-90)" font-size="24.0" text-anchor="middle">k</text>
<text transform="translate(595.00,203.75) rotate(-90)" font-size="28.0" text-anchor="middle">[</text>
</svg></body></html>
